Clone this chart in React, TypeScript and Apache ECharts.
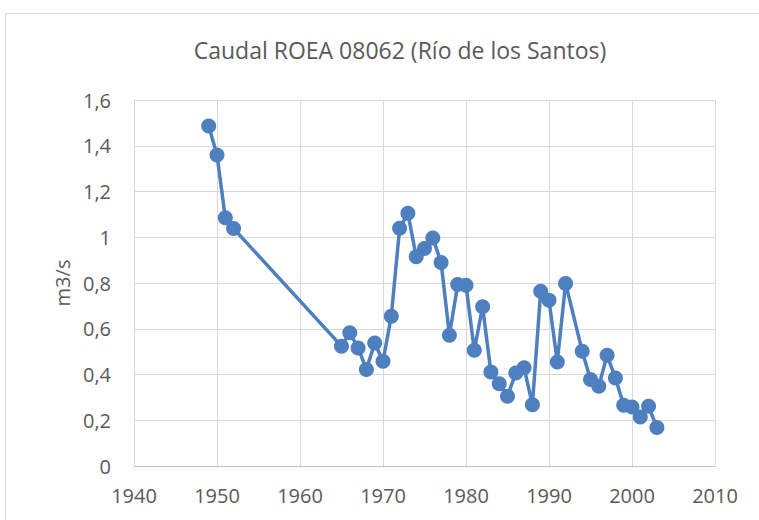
import React, { useEffect, useRef } from "react";
import * as echarts from "echarts";

const years = [1949, 1950, 1951, 1952, 1965, 1966, 1967, 1968, 1969, 1970, 1971, 1972, 1973, 1974, 1975, 1976, 1977, 1978, 1979, 1980, 1981, 1982, 1983, 1984, 1985, 1986, 1987, 1988, 1989, 1990, 1991, 1992, 1994, 1995, 1996, 1997, 1998, 1999, 2000, 2001, 2002, 2003];
const caudal = [1.486, 1.36, 1.085, 1.038, 0.524, 0.583, 0.516, 0.422, 0.538, 0.458, 0.655, 1.039, 1.105, 0.915, 0.951, 0.997, 0.89, 0.572, 0.793, 0.79, 0.506, 0.696, 0.411, 0.36, 0.305, 0.407, 0.429, 0.268, 0.764, 0.725, 0.455, 0.798, 0.502, 0.378, 0.349, 0.484, 0.385, 0.266, 0.258, 0.214, 0.261, 0.168];

const titleText = "Caudal ROEA 08062 (Río de los Santos)";
const yName = "m3/s";

export default function App() {
  const ref = useRef<HTMLDivElement>(null);
  useEffect(() => {
    if (!ref.current) return;
    const chart = echarts.init(ref.current, null, { renderer: "svg" });
    const font = "'Open Sans', 'Noto Sans', sans-serif";
    chart.setOption({
      animation: false,
      backgroundColor: "#ffffff",
      textStyle: { fontFamily: font },
      title: {
        text: titleText,
        left: 395,
        textAlign: "center",
        top: 33,
        textStyle: { color: "#595959", fontSize: 23, fontWeight: "normal", fontFamily: font },
      },
      graphic: [
        {
          type: "rect",
          shape: { x: 5.5, y: 13.5, width: 800, height: 600 },
          style: { fill: "none", stroke: "#d9d9d9", lineWidth: 1 },
          silent: true,
        },
      ],
      grid: { left: 134, top: 100, right: 44, bottom: 54, containLabel: false },
      xAxis: {
        type: "value",
        min: 1940,
        max: 2010,
        interval: 10,
        axisLine: { show: true, lineStyle: { color: "#bfbfbf", width: 1 } },
        axisTick: { show: false },
        splitLine: { show: true, lineStyle: { color: "#d9d9d9", width: 1 } },
        axisLabel: {
          color: "#595959",
          fontSize: 20,
          margin: 19,
          fontFamily: font,
          formatter: (v: number) => String(v),
        },
      },
      yAxis: {
        type: "value",
        min: 0,
        max: 1.6,
        interval: 0.2,
        name: yName,
        nameLocation: "middle",
        nameGap: 58,
        nameTextStyle: { color: "#595959", fontSize: 20, fontFamily: font },
        axisLine: { show: true, lineStyle: { color: "#d9d9d9", width: 1 } },
        axisTick: { show: false },
        splitLine: { show: true, lineStyle: { color: "#d9d9d9", width: 1 } },
        axisLabel: {
          color: "#595959",
          fontSize: 20,
          margin: 23,
          fontFamily: font,
          formatter: (v: number) => String(Math.round(v * 10) / 10).replace(".", ","),
        },
      },
      series: [
        {
          type: "line",
          data: years.map((y, i) => [y, caudal[i]]),
          symbol: "circle",
          symbolSize: 15,
          lineStyle: { color: "#4e7fbf", width: 3.5 },
          itemStyle: { color: "#4e7fbf" },
        },
      ],
    });
    return () => chart.dispose();
  }, []);
  return (
    <div
      ref={ref}
      style={{ position: "absolute", left: 0, top: 0, width: 759, height: 520 }}
    />
  );
}
